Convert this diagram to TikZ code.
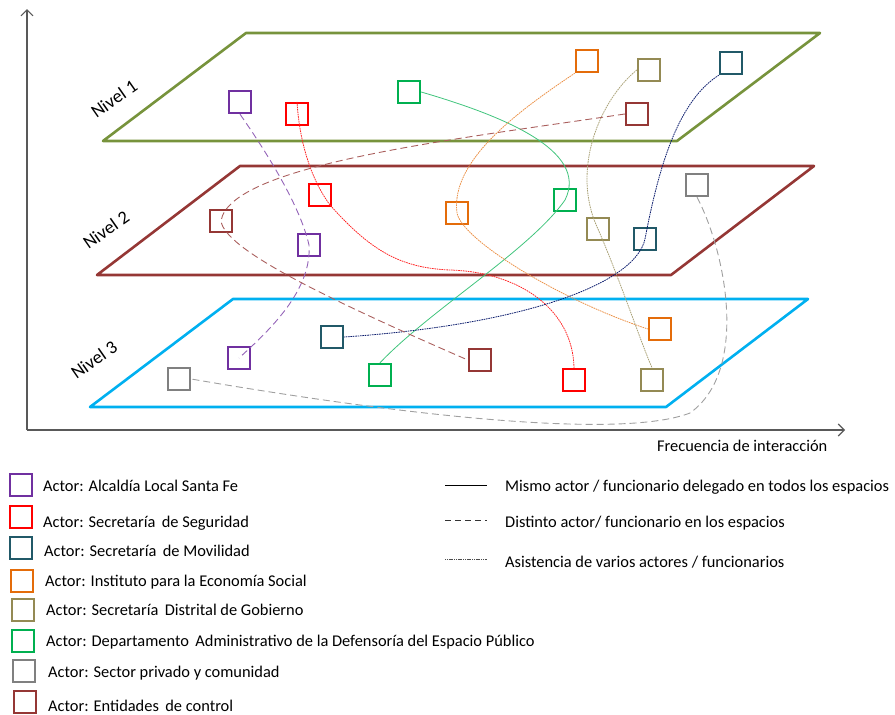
\documentclass[tikz,border=0pt]{standalone}
\usepackage{fontspec}
\setmainfont{Carlito}
\usepackage{tikz}
\usetikzlibrary{arrows.meta}

\definecolor{alcaldia}{HTML}{7030A0}
\definecolor{seguridad}{HTML}{FF0000}
\definecolor{movilidad}{HTML}{215968}
\definecolor{ipes}{HTML}{E46C0A}
\definecolor{gobierno}{HTML}{948A54}
\definecolor{dadep}{HTML}{00B050}
\definecolor{privado}{HTML}{808080}
\definecolor{control}{HTML}{953735}
\definecolor{nivelA}{HTML}{77933C}
\definecolor{nivelB}{HTML}{953735}
\definecolor{nivelC}{HTML}{00B0F0}
\definecolor{axisgray}{HTML}{595959}

\begin{document}
\begin{tikzpicture}[x=1pt, y=1pt,
% common options for the actor squares:
actor/.style = {draw, rectangle, line width=2.4pt, minimum size=22pt, inner sep=0},
% common options for the levels:
plane/.style = {line width=2.6pt, line join=round},
% common options for the links:
same/.style = {line width=0.8pt},
other/.style = {line width=0.9pt, dash pattern=on 7pt off 4pt},
many/.style = {line width=0.8pt, dash pattern=on 1.6pt off 0.8pt},
% common options for the texts:
txt/.style = {anchor=base west, inner sep=0, font=\fontsize{16.4}{19}\selectfont},
lvl/.style = {rotate=35, inner sep=0, font=\fontsize{18.5}{21}\selectfont}]
\useasboundingbox (0,0) rectangle (895,-715);

% axes
\coordinate (O) at (27,-430);
\coordinate (Ytop) at (27,-9);
\coordinate (Xend) at (845,-430);
\draw[axisgray, line width=1.1pt, -{Straight Barb[length=6pt,width=12pt]}] (O) -- (Ytop);
\draw[axisgray, line width=1.1pt, -{Straight Barb[length=6pt,width=12pt]}] (O) -- (Xend);
\node[txt] (X) at (657,-451) {Frecuencia de interacción};

% levels
\draw[plane, nivelA] (246,-33) -- (820,-33) -- (677,-141) -- (103,-141) -- cycle;
\draw[plane, nivelB] (240,-166) -- (814,-166) -- (671,-275) -- (97,-275) -- cycle;
\draw[plane, nivelC] (233,-299) -- (808,-299) -- (666,-407) -- (90,-407) -- cycle;
\node[lvl] (N1) at (114,-99) {Nivel 1};
\node[lvl] (N2) at (106,-230) {Nivel 2};
\node[lvl] (N3) at (94,-360) {Nivel 3};

% actors, level 1
\node[actor, alcaldia] (A1) at (240,-102) {};
\node[actor, seguridad] (S1) at (297,-114) {};
\node[actor, dadep] (D1) at (409,-92) {};
\node[actor, ipes] (I1) at (587,-61) {};
\node[actor, gobierno] (G1) at (649,-70) {};
\node[actor, movilidad] (M1) at (731,-63) {};
\node[actor, control] (C1) at (637,-114) {};

% actors, level 2
\node[actor, control] (C2) at (221,-221) {};
\node[actor, seguridad] (S2) at (320,-195) {};
\node[actor, alcaldia] (A2) at (309,-245) {};
\node[actor, ipes] (I2) at (457,-213) {};
\node[actor, dadep] (D2) at (565,-200) {};
\node[actor, gobierno] (G2) at (598,-229) {};
\node[actor, movilidad] (M2) at (645,-239) {};
\node[actor, privado] (P2) at (697,-185) {};

% actors, level 3
\node[actor, privado] (P3) at (179,-379) {};
\node[actor, alcaldia] (A3) at (239,-358) {};
\node[actor, movilidad] (M3) at (332,-337) {};
\node[actor, dadep] (D3) at (380,-375) {};
\node[actor, control] (C3) at (480,-360) {};
\node[actor, seguridad] (S3) at (574,-380) {};
\node[actor, ipes] (I3) at (660,-329) {};
\node[actor, gobierno] (G3) at (652,-380) {};

% links between levels
\draw[other, alcaldia!75] (A1.south) .. controls (265,-150) and (300,-205) .. (A2.center)
  .. controls (312,-290) and (270,-330) .. (A3.center);
\draw[many, seguridad!85] (S1.north) .. controls (300,-150) and (315,-185) .. (330,-205)
  .. controls (370,-250) and (400,-268) .. (450,-270)
  .. controls (520,-272) and (573,-310) .. (S3.north);
\draw[same, dadep!75] (D1.east) .. controls (500,-115) and (590,-150) .. (D2.center)
  .. controls (530,-250) and (430,-310) .. (D3.north);
\draw[many, ipes!75] (I1.south west) .. controls (520,-110) and (450,-160) .. (I2.center)
  .. controls (462,-240) and (560,-300) .. (I3.west);
\draw[many, gobierno!80] (G1.west) .. controls (600,-100) and (570,-170) .. (G2.center)
  .. controls (620,-280) and (640,-340) .. (G3.north);
\draw[many, movilidad!50!blue!60!black] (M1.south west) .. controls (680,-100) and (660,-160) .. (M2.center)
  .. controls (635,-285) and (520,-325) .. (M3.east);
\draw[other, control!80] (C1.west) .. controls (450,-140) and (230,-165) .. (C2.center)
  .. controls (225,-250) and (330,-300) .. (C3.west);
\draw[other, privado!75] (P2.south) .. controls (725,-250) and (750,-370) .. (690,-413)
  .. controls (620,-440) and (400,-415) .. (P3.east);

% legend of actors
\node[actor, alcaldia] (L1) at (21,-485) {};
\node[txt] (T1) at (43,-491) {Actor: Alcaldía Local Santa Fe};
\node[actor, seguridad] (L2) at (21,-517) {};
\node[txt] (T2) at (43,-527) {Actor: Secretaría\, de Seguridad};
\node[actor, movilidad] (L3) at (21,-548) {};
\node[txt] (T3) at (44,-556) {Actor: Secretaría\, de Movilidad};
\node[actor, ipes] (L4) at (22,-581) {};
\node[txt] (T4) at (45,-586) {Actor: Instituto para la Economía Social};
\node[actor, gobierno] (L5) at (23,-610) {};
\node[txt] (T5) at (46,-615) {Actor: Secretaría\, Distrital de Gobierno};
\node[actor, dadep] (L6) at (23,-641) {};
\node[txt] (T6) at (46,-646) {Actor: Departamento\, Administrativo de la Defensoría del Espacio Público};
\node[actor, privado] (L7) at (24,-671) {};
\node[txt] (T7) at (48,-677) {Actor: Sector privado y comunidad};
\node[actor, control] (L8) at (25,-702) {};
\node[txt] (T8) at (48,-711) {Actor: Entidades\, de control};

% legend of links
\coordinate (K1a) at (445,-485);
\coordinate (K1b) at (487,-485);
\coordinate (K2a) at (445,-520);
\coordinate (K2b) at (487,-520);
\coordinate (K3a) at (445,-559);
\coordinate (K3b) at (487,-559);
\draw[black, line width=0.8pt] (K1a) -- (K1b);
\draw[black!80, line width=0.8pt, dash pattern=on 6pt off 4pt] (K2a) -- (K2b);
\draw[black!70, line width=0.6pt, dash pattern=on 1.2pt off 0.6pt] (K3a) -- (K3b);
\node[txt] (U1) at (505,-491) {Mismo actor / funcionario delegado en todos los espacios};
\node[txt] (U2) at (505,-527) {Distinto actor/ funcionario en los espacios};
\node[txt] (U3) at (505,-567) {Asistencia de varios actores / funcionarios};
\end{tikzpicture}
\end{document}
